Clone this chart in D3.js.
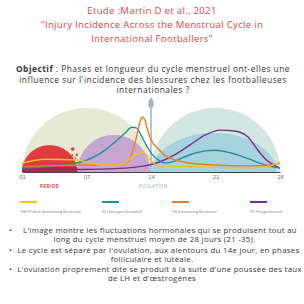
<!DOCTYPE html>
<html>
<head>
<meta charset="utf-8">
<script src="https://cdn.jsdelivr.net/npm/d3@7"></script>
<style>
  body { margin: 0; background: #fff; }
  svg { display: block; font-family: "Open Sans", sans-serif; }
</style>
</head>
<body>
<div id="chart"></div>
<script>
const width = 304;
const height = 304;
const margin = {left: 22, right: 24, top: 108, base: 172};

// hormone curves: [cycle day, relative level 0-100]
const fsh = [[0,14],[2.5,20],[5.8,19],[8.7,11],[10.6,11],[12.3,27],[13,31],[13.5,27],[14.1,16],[14.8,10],[16.6,8.5],[19.3,8],[23.7,6.5],[26.4,8],[28,15]];
const e2 = [[0,6],[3,9],[6.5,16],[8.7,31],[10.1,47],[11.2,61],[11.9,70],[12.4,69],[12.9,58],[13.6,39],[14.1,28],[14.8,19],[15.5,14],[16.6,17],[18.2,27],[19.9,33],[21,34],[22.6,30],[24.7,20],[26.4,11],[28,6]];
const lh = [[0,8],[2.8,9.5],[6.5,11],[10.6,11],[11.5,16],[11.9,27],[12.4,53],[12.8,78],[13.1,86],[13.35,81],[13.7,62],[14.1,48],[14.8,36],[15.5,26],[16.6,19],[18.2,14],[20.9,11],[24.7,9.5],[26.9,11],[28,14]];
const pg = [[0,4.5],[6.3,4],[11.2,6],[13.3,9.5],[15,16],[16.6,27],[18.2,42],[19.9,58],[21.5,65.5],[23.1,64],[24.5,55],[25.6,34],[26.5,19],[28,6]];

const seriesNames = ["FSH (Follicle Stimulating Hormone)", "E2 (Estrogen-Estradiol)", "LH (Luteinizing Hormone)", "PG (Progesterone)"];
const seriesColors = ["#f6c21c", "#1f8fa2", "#f47a22", "#7b2d8e"];

const tickDays = [0, 7, 14, 21, 28];
const tickLabels = ["01", "07", "14", "21", "28"];

// background phase domes (days, top level)
const domeStart = [0, 14, 0, 6, 14.1];
const domeEnd = [14, 28, 6, 13.9, 27.6];
const domeTop = [100, 100, 42, 58, 61];
const domeColors = ["#e6e9d3", "#d3e7e2", "#e23a40", "#c6a5cf", "#a5d2dd"];

const periodDrops = [[5.5,36],[5.95,27],[5.45,26],[5.8,22]];
const ovulationDay = 14;

const titleLines = ["Etude :Martin D et al., 2021", "\"Injury Incidence Across the Menstrual Cycle in", "International Footballers\""];
const questionLines = [" : Phases et longueur du cycle menstruel ont-elles une", "influence sur l'incidence des blessures chez les footballeuses", "internationales ?"];
const bulletLines = [
  ["•", "L'image montre les fluctuations hormonales qui se produisent tout au"],
  ["", "long du cycle menstruel moyen de 28 jours (21 -35)."],
  ["•", "Le cycle est séparé par l'ovulation, aux alentours du 14e jour, en phases"],
  ["", "folliculaire et lutéale."],
  ["•", "L'ovulation proprement dite se produit à la suite d'une poussée des taux"],
  ["", "de LH et d'œstrogènes"]
];

const svg = d3.select("#chart")
    .append("svg")
    .attr("width", width)
    .attr("height", height);

const x = d3.scaleLinear().domain([0, 28]).range([margin.left, width - margin.right]);
const y = d3.scaleLinear().domain([0, 100]).range([margin.base, margin.top]);

// title
svg.append("g").selectAll("text")
    .data(titleLines)
    .join("text")
      .attr("x", 152)
      .attr("y", (d, i) => 11 + i * 14)
      .attr("dy", "0.35em")
      .attr("text-anchor", "middle")
      .attr("font-size", "9.6px")
      .attr("letter-spacing", "0.3px")
      .attr("fill", "#de474c")
      .text(d => d);

// question
const q = svg.append("g").selectAll("text")
    .data(questionLines)
    .join("text")
      .attr("x", 153)
      .attr("y", (d, i) => 69.5 + i * 10.5)
      .attr("dy", "0.35em")
      .attr("text-anchor", "middle")
      .attr("font-size", "8.4px")
      .attr("letter-spacing", "0.5px")
      .attr("fill", "#333");
q.filter((d, i) => i === 0).append("tspan").attr("font-weight", "bold").text("Objectif");
q.append("tspan").text(d => d);

// domes: half ellipses standing on the baseline
const angles = d3.range(0, 61).map(k => Math.PI * k / 60);
const domes = svg.append("g");
domeStart.forEach((s, i) => {
  const x0 = x(s), x1 = x(domeEnd[i]);
  const cx = (x0 + x1) / 2, rx = (x1 - x0) / 2, ry = y(0) - y(domeTop[i]);
  const pts = angles.map(a => [cx - rx * Math.cos(a), y(0) - ry * Math.sin(a)]);
  domes.append("path")
      .attr("d", d3.line()(pts) + "Z")
      .attr("fill", domeColors[i]);
});
domes.append("rect")
    .attr("x", x(domeStart[2]))
    .attr("y", y(0) - 5)
    .attr("width", x(domeEnd[2]) - x(domeStart[2]))
    .attr("height", 5)
    .attr("fill", "#b42a3a");
domes.selectAll("circle")
    .data(periodDrops)
    .join("circle")
      .attr("cx", d => x(d[0]))
      .attr("cy", d => y(d[1]))
      .attr("r", (d, i) => [1.8, 1.2, 1, 0.8][i])
      .attr("fill", "#e23a40");

// ovulation marker
const ox = x(ovulationDay);
svg.append("line")
    .attr("x1", ox).attr("x2", ox)
    .attr("y1", 106).attr("y2", y(0))
    .attr("stroke", "#b8c3d7")
    .attr("stroke-width", 2);
svg.append("path")
    .attr("d", `M${ox},97C${ox + 4},102 ${ox + 3.6},108 ${ox},108C${ox - 3.6},108 ${ox - 4},102 ${ox},97Z`)
    .attr("fill", "#a9b5cb");

// hormone lines
const line = d3.line()
    .x(d => x(d[0]))
    .y(d => y(d[1]))
    .curve(d3.curveMonotoneX);
const series = [fsh, e2, lh, pg];
[3, 1, 2, 0].forEach(i => {
  svg.append("path")
      .attr("d", line(series[i]))
      .attr("fill", "none")
      .attr("stroke", seriesColors[i])
      .attr("stroke-width", 1.4);
});

// axis
const xAxis = d3.axisBottom(x)
    .tickValues(tickDays)
    .tickFormat((d, i) => tickLabels[i])
    .tickSize(0)
    .tickPadding(3);
const ax = svg.append("g")
    .attr("transform", `translate(0,${y(0)})`)
    .call(xAxis);
ax.select(".domain").attr("stroke", "#444").attr("stroke-width", 1.2);
ax.selectAll("text").attr("font-size", "6px").attr("fill", "#777").attr("font-family", "'Liberation Sans Narrow', sans-serif");

svg.append("text")
    .attr("x", x(3)).attr("y", 188)
    .attr("text-anchor", "middle")
    .attr("font-size", "4.6px").attr("font-weight", "bold")
    .attr("letter-spacing", "0.4px")
    .attr("fill", "#d3454c")
    .text("PERIOD");
svg.append("text")
    .attr("x", ox + 2).attr("y", 188)
    .attr("text-anchor", "middle")
    .attr("font-size", "4.6px")
    .attr("letter-spacing", "0.4px")
    .attr("fill", "#9aa7c3")
    .text("OVULATION");

// legend
const legendX = [20, 102, 172, 250];
const legend = svg.append("g").selectAll("g")
    .data(seriesNames)
    .join("g")
      .attr("transform", (d, i) => `translate(${legendX[i]},202)`);
legend.append("line")
    .attr("x2", 17)
    .attr("stroke", (d, i) => seriesColors[i])
    .attr("stroke-width", 2);
legend.append("text")
    .attr("y", 10.5)
    .attr("font-size", "3.8px")
    .attr("fill", "#777")
    .text(d => d);

// bullets
const rowY = [230, 239.5, 250, 259, 269.5, 278.5];
const rowX = [160, 154.5, 158.5, 152, 159.5, 152];
const b = svg.append("g").selectAll("g")
    .data(bulletLines)
    .join("g");
b.append("text")
    .attr("x", 9)
    .attr("y", (d, i) => rowY[i])
    .attr("dy", "0.35em")
    .attr("font-size", "7.6px")
    .attr("fill", "#333")
    .text(d => d[0]);
b.append("text")
    .attr("x", (d, i) => rowX[i])
    .attr("y", (d, i) => rowY[i])
    .attr("dy", "0.35em")
    .attr("text-anchor", "middle")
    .attr("font-size", "7.8px")
    .attr("letter-spacing", "0.3px")
    .attr("fill", "#333")
    .text(d => d[1]);
</script>
</body>
</html>
